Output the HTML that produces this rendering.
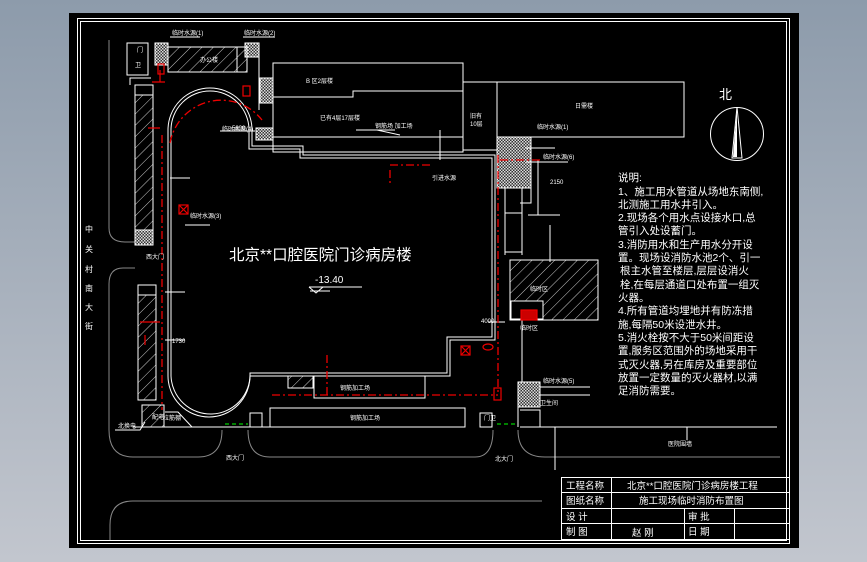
<!DOCTYPE html>
<html><head><meta charset="utf-8"><style>
html,body{margin:0;padding:0;width:867px;height:562px;overflow:hidden;background:linear-gradient(#8d9bab,#c2c6ce);}
svg{position:absolute;left:0;top:0}
text{font-family:"Liberation Sans","Noto Sans CJK SC",sans-serif;fill:#fff}
</style></head><body>
<svg width="867" height="562" viewBox="0 0 867 562">
<defs>
<pattern id="h" width="8" height="8" patternUnits="userSpaceOnUse" patternTransform="rotate(45)"><line x1="0" y1="0" x2="0" y2="8" stroke="#fff" stroke-width="0.8"/></pattern>
<pattern id="c" width="3" height="3" patternUnits="userSpaceOnUse"><rect width="3" height="3" fill="#333"/><rect width="1.5" height="1.5" fill="#ddd"/><rect x="1.5" y="1.5" width="1.5" height="1.5" fill="#ddd"/></pattern>
</defs>
<rect x="69" y="13" width="730" height="535" fill="#000"/>
<rect x="77.5" y="18.5" width="712" height="525" fill="none" stroke="#fff"/>
<rect x="80.5" y="21.5" width="706" height="519" fill="none" stroke="#fff"/>

<g fill="none" stroke="#888" stroke-width="1">
<path d="M109 40 V228 Q109 242 125 242 H135"/>
<path d="M135 268 H123 Q109 268 109 284 V430 Q109 457 133 457 H198 Q222 457 222 430"/>
<path d="M248 430 Q248 457 270 457 H475 Q493 457 493 430"/>
<path d="M518 430 Q518 457 545 457 H780"/>
<path d="M542 501 H133 Q110 501 110 525 V540"/>
</g>

<g fill="none" stroke="#fff" stroke-width="1">
<rect x="127" y="43" width="21" height="32"/>
<rect x="168" y="47" width="79" height="25" fill="url(#h)"/>
<rect x="155" y="43" width="13" height="22" fill="url(#c)"/>
<rect x="245" y="43" width="14" height="14" fill="url(#c)"/>
<rect x="237" y="47" width="10" height="25"/>
<path d="M259 57 V110"/>
<rect x="273" y="63" width="190" height="89"/>
<path d="M273 97 H353 V91 H463 M273 137 H463"/>
<rect x="260" y="78" width="13" height="25" fill="url(#c)"/>
<rect x="256" y="128" width="17" height="12" fill="url(#c)"/>
<rect x="463" y="82" width="34" height="68"/>
<rect x="497" y="82" width="187" height="55"/>
<path d="M151 78 H130 V85"/>
<rect x="135" y="85" width="18" height="160" fill="url(#h)"/>
<rect x="135" y="85" width="18" height="10" fill="#000"/>
<rect x="135" y="230" width="18" height="15" fill="url(#c)"/>
<rect x="138" y="285" width="18" height="115" fill="url(#h)"/>
<rect x="138" y="285" width="18" height="10" fill="#000"/>
<rect x="142" y="405" width="22" height="22" fill="url(#h)"/>
<path d="M165 412 H178 L192 427 M115 430 H140 L145 422"/>
<path d="M168 370 V130 A42 42 0 0 1 252 130 V146 H303 V155 H495 V340 H450 V376 H250 A40 40 0 0 1 168 376 Z"/>
<path d="M171 370 V130 A39 39 0 0 1 249 130 V149 H300 V158 H492 V337 H447 V373 H250 A37 37 0 0 1 171 376 Z"/>
<path d="M133 427 H465 M520 427 H777 M687 427 V440"/>
<rect x="270" y="408" width="195" height="19"/>
<rect x="314" y="376" width="111" height="22"/>
<rect x="288" y="376" width="25" height="12" fill="url(#h)"/>
<rect x="480" y="413" width="12" height="14"/>
<rect x="250" y="413" width="12" height="14"/>
<rect x="497" y="137" width="34" height="51" fill="url(#c)"/>
<path d="M505 188 V255 M522 188 V255 M505 213 H522 M505 252 H522 M531 188 V203 H520 M522 320 V400 M518 400 V427"/>
<rect x="510" y="260" width="88" height="60" fill="url(#h)"/>
<rect x="511" y="301" width="32" height="18" fill="#000" stroke="#fff"/>
<rect x="518" y="382" width="22" height="25" fill="url(#c)"/>
<path d="M540 387 H590 M540 395 H590 M520 410 H540 V427"/>
<path d="M170 37 H200 M243 37 H275 M220 131 H255 M356 130 H395 M377 130 L400 135 M440 130 V160 M525 148 H555 M526 162 H568 M538 160 V215 M528 215 H560 M550 225 V262 M488 322 H505 M165 340 H185 M165 292 H185 M170 178 H190 M310 291 H330 M185 225 H210"/>
<path d="M555 427 V470"/>
</g>

<g fill="none" stroke="#e00" stroke-width="1.3" stroke-dasharray="8 3 2 3">
<path d="M162 135 V410"/>
<path d="M170 143 A52 52 0 0 1 262 120"/>
<path d="M272 395 H498"/>
<path d="M498 155 V395"/>
<path d="M500 160 H540"/>
<path d="M390 170 V185 M390 165 H430"/>
<path d="M327 355 V395"/>
</g>
<g fill="none" stroke="#e00" stroke-width="1.2">
<path d="M160 70 V82 M152 82 H165 M148 128 H160 M140 322 H160 M145 335 V345"/>
<rect x="158" y="64" width="6" height="10"/>
<rect x="243" y="86" width="7" height="10"/>
<rect x="179" y="205" width="9" height="9"/><path d="M179 205 L188 214 M188 205 L179 214"/>
<rect x="461" y="346" width="9" height="9"/><path d="M461 346 L470 355 M470 346 L461 355"/>
<rect x="494" y="388" width="7" height="12"/>
<rect x="521" y="310" width="16" height="10" fill="#c00"/>
<ellipse cx="488" cy="347" rx="5" ry="3"/>
</g>
<g fill="none" stroke="#0c0" stroke-width="1.2" stroke-dasharray="4 3">
<path d="M225 424 H248 M497 424 H515"/>
</g>

<g font-size="6">
<text x="137" y="52">门</text><text x="135" y="67">卫</text>
<text x="200" y="62">办公楼</text>
<text x="172" y="35">临时水源(1)</text><text x="244" y="35">临时水源(2)</text>
<text x="306" y="83">B 区2层楼</text>
<text x="320" y="120">已有4层17层楼</text>
<text x="375" y="128">钢筋场 加工场</text>
<text x="222" y="131">临时水源(4)</text>
<text x="470" y="118">旧有</text><text x="470" y="126">10层</text>
<text x="575" y="108">日需楼</text>
<text x="537" y="129">临时水源(1)</text>
<text x="543" y="159">临时水源(6)</text>
<text x="432" y="180" fill="#e00">引进水源</text>
<text x="190" y="218">临时水源(3)</text>
<text x="340" y="390">钢筋加工场</text>
<text x="350" y="420">钢筋加工场</text>
<text x="152" y="419">配电</text>
<text x="163" y="420">拉筋棚</text>
<text x="118" y="428">北换电</text>
<text x="484" y="420">门卫</text>
<text x="530" y="291">临时区</text>
<text x="520" y="330">临时区</text>
<text x="543" y="383">临时水源(5)</text>
<text x="540" y="405">卫生间</text>
<text x="146" y="259">西大门</text>
<text x="226" y="460">西大门</text>
<text x="495" y="461">北大门</text>
<text x="668" y="446">医院围墙</text>
<text x="172" y="343">1730</text><text x="232" y="130">5890</text>
<text x="481" y="323">4000</text><text x="550" y="184">2150</text>
</g>
<g font-size="8">
<text x="85" y="232">中</text><text x="85" y="252">关</text><text x="85" y="272">村</text><text x="85" y="291">南</text><text x="85" y="310">大</text><text x="85" y="329">街</text>
</g>
<text x="229" y="260" font-size="15.5">北京**口腔医院门诊病房楼</text>
<text x="315" y="283" font-size="10">-13.40</text>
<path d="M309 287 H362 M309 287 L316 293 L323 287" stroke="#fff" fill="none"/>

<text x="719" y="99" font-size="13">北</text>
<circle cx="737" cy="134" r="26.5" fill="none" stroke="#fff"/>
<path d="M732 158 L737 107 L742 158 Z" fill="none" stroke="#fff"/>
<path d="M733 157 L737 110 L737 157 Z" fill="#fff"/>

<g font-size="10.5">
<text x="618" y="181">说明:</text>
<text x="618" y="195">1、施工用水管道从场地东南侧,</text>
<text x="618" y="208">北测施工用水井引入。</text>
<text x="618" y="221">2.现场各个用水点设接水口,总</text>
<text x="618" y="234">管引入处设蓄门。</text>
<text x="618" y="248">3.消防用水和生产用水分开设</text>
<text x="618" y="261">置。现场设消防水池2个、引一</text>
<text x="620" y="274">根主水管至楼层,层层设消火</text>
<text x="620" y="288">栓,在每层通道口处布置一组灭</text>
<text x="618" y="301">火器。</text>
<text x="618" y="314">4.所有管道均埋地并有防冻措</text>
<text x="618" y="328">施,每隔50米设泄水井。</text>
<text x="618" y="341">5.消火栓按不大于50米间距设</text>
<text x="618" y="354">置,服务区范围外的场地采用干</text>
<text x="618" y="368">式灭火器,另在库房及重要部位</text>
<text x="618" y="381">放置一定数量的灭火器材,以满</text>
<text x="618" y="394">足消防需要。</text>
</g>

<g fill="none" stroke="#fff">
<rect x="561.5" y="477.5" width="228" height="62"/>
<path d="M561 492.5 H790 M561 508.5 H790 M561 523.5 H790 M611.5 477 V540 M684.5 508 V540 M734.5 508 V540"/>
</g>
<g font-size="9.5">
<text x="566" y="489">工程名称</text><text x="627" y="489">北京**口腔医院门诊病房楼工程</text>
<text x="566" y="504">图纸名称</text><text x="639" y="504">施工现场临时消防布置图</text>
<text x="566" y="520">设  计</text><text x="688" y="520">审  批</text>
<text x="566" y="535">制  图</text><text x="632" y="536">赵  刚</text><text x="688" y="535">日  期</text>
</g>
</svg>
</body></html>
